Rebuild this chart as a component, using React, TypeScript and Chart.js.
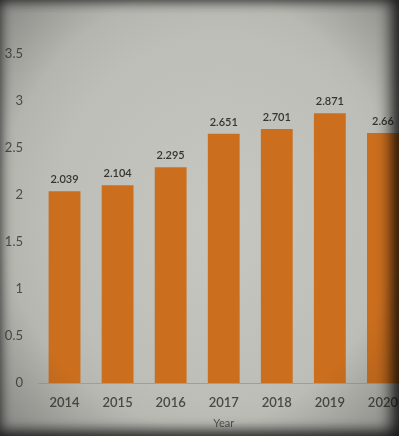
import React, { useEffect, useRef } from "react";
import { Chart, registerables } from "chart.js";

Chart.register(...registerables);

const years = ["2014", "2015", "2016", "2017", "2018", "2019", "2020"];
const values = [2.039, 2.104, 2.295, 2.651, 2.701, 2.871, 2.66];
const valueLabels = ["2.039", "2.104", "2.295", "2.651", "2.701", "2.871", "2.66"];
const yTicks = [0, 0.5, 1, 1.5, 2, 2.5, 3, 3.5];
const xTitle = "Year";

const FONT = "Lato, 'Open Sans', sans-serif";

const labelPlugin = {
  id: "valueLabels",
  afterDatasetsDraw(chart: any) {
    const ctx = chart.ctx;
    const meta = chart.getDatasetMeta(0);
    ctx.save();
    ctx.font = `600 11px ${FONT}`;
    ctx.fillStyle = "#363431";
    ctx.textAlign = "center";
    ctx.textBaseline = "bottom";
    meta.data.forEach((bar: any, i: number) => {
      ctx.fillText(valueLabels[i], bar.x, bar.y - 6);
    });
    ctx.restore();
  },
};

export default function App() {
  const ref = useRef<HTMLCanvasElement>(null);
  useEffect(() => {
    document.body.style.margin = "0";
    const chart = new Chart(ref.current!, {
      type: "bar",
      data: {
        labels: years,
        datasets: [
          {
            data: values,
            backgroundColor: "#cb6f1f",
            barPercentage: 0.6,
            categoryPercentage: 1,
          },
        ],
      },
      options: {
        animation: false,
        responsive: false,
        layout: { padding: { top: 54, right: 0, left: 0, bottom: 0 } },
        plugins: { legend: { display: false }, tooltip: { enabled: false } },
        scales: {
          x: {
            grid: { display: false, drawTicks: false },
            border: { display: true, color: "#9e9f9a", width: 1 },
            ticks: {
              color: "#4a4844",
              font: { family: FONT, size: 13, weight: "600" as any },
              padding: 12,
            },
            title: {
              display: true,
              text: xTitle,
              color: "#55534f",
              font: { family: FONT, size: 11 },
              padding: { top: 0, bottom: 6 },
            },
            afterFit(scale: any) {
              scale.height = 53;
            },
          },
          y: {
            min: 0,
            max: 3.5,
            afterBuildTicks(scale: any) {
              scale.ticks = yTicks.map((v) => ({ value: v }));
            },
            grid: { display: false, drawTicks: false },
            border: { display: false },
            ticks: {
              color: "#4e4c48",
              font: { family: FONT, size: 13 },
              padding: 15,
              callback: (v: any) => String(v),
            },
            afterFit(scale: any) {
              scale.width = 38;
            },
          },
        },
      },
      plugins: [labelPlugin],
    });
    return () => chart.destroy();
  }, []);

  return (
    <div
      style={{
        position: "fixed",
        left: 0,
        top: 0,
        width: 399,
        height: 436,
        overflow: "hidden",
        background: "radial-gradient(ellipse 70% 70% at 55% 50%, #c6c7c0 0%, #bdbeb7 60%, #a9aaa4 100%)",
      }}
    >
      <canvas ref={ref} width={410} height={436} style={{ display: "block" }} />
      <div
        style={{
          position: "absolute",
          inset: 0,
          pointerEvents: "none",
          background:
            "radial-gradient(ellipse 80% 80% at 50% 48%, rgba(0,0,0,0) 62%, rgba(0,0,0,0.28) 100%)",
          boxShadow:
            "inset 0 0 14px rgba(0,0,0,0.55), inset -10px 0 14px rgba(0,0,0,0.55), inset 0 -8px 12px rgba(0,0,0,0.35)",
        }}
      />
    </div>
  );
}
